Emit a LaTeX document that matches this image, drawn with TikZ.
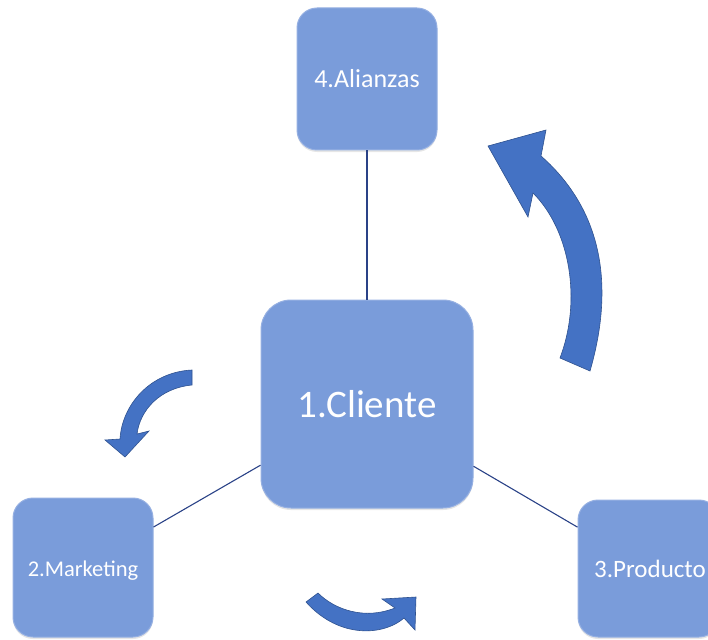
\documentclass[tikz,border=0pt]{standalone}
\usepackage{fontspec}
\setmainfont{Carlito}
\usetikzlibrary{shadows}
\definecolor{boxfill}{RGB}{122,156,218}
\definecolor{boxedge}{RGB}{150,176,226}
\definecolor{arrfill}{RGB}{68,114,196}
\definecolor{arredge}{RGB}{47,82,143}
\definecolor{linkcol}{RGB}{42,66,135}
\tikzset{
  box/.style={rounded corners=#1, fill=boxfill, draw=boxedge, line width=1pt,
    text=white, inner sep=0pt, align=center,
    drop shadow={opacity=0.2, shadow xshift=0pt, shadow yshift=-2pt}},
  link/.style={draw=linkcol, line width=1.1pt},
  curvarrow/.style={fill=arrfill, draw=arredge, line width=0.6pt, line join=miter}
}
\begin{document}
\begin{tikzpicture}[x=1pt,y=-1pt]
\useasboundingbox (0,0) rectangle (708,639);
\clip (0,0) rectangle (708,639);
\node[box=20pt, minimum width=140pt, minimum height=142pt, font=\fontsize{26}{29}\selectfont] (alianzas) at (367,79) {4.Alianzas};
\node[box=30pt, minimum width=212pt, minimum height=208pt, font=\fontsize{39}{44}\selectfont] (cliente) at (367,404) {1.Cliente};
\node[box=20pt, minimum width=140pt, minimum height=139pt, text height=22pt, text depth=5pt, font=\fontsize{22.5}{26}\selectfont] (marketing) at (83,567.5) {2.Marketing};
\node[box=20pt, minimum width=141pt, minimum height=137pt, font=\fontsize{25}{28}\selectfont] (producto) at (648.5,568.5) {\hspace*{3pt}3.Producto};
\draw[link] (cliente) -- (alianzas);
\draw[link] (cliente) -- (marketing);
\draw[link] (cliente) -- (producto);
% big curved arrow (right)
\path[curvarrow] (560,358) -- (590,371) .. controls (612,295) and (608,215) .. (541,156)
  -- (546,130) -- (488,146) -- (528,217) -- (533,193)
  .. controls (570,230) and (582,300) .. (560,358) -- cycle;
% small arrow (left)
\path[curvarrow] (192,370) .. controls (150,372) and (122,405) .. (120,439)
  -- (105,440) -- (125,457) -- (149,431) -- (137,434)
  .. controls (140,410) and (160,388) .. (192,385) -- cycle;
% small arrow (bottom)
\path[curvarrow] (306,602) -- (318,593) .. controls (335,610) and (365,620) .. (395,608)
  -- (382,599) -- (416,597) -- (415,630) -- (404,618)
  .. controls (385,635) and (340,640) .. (306,602) -- cycle;
\end{tikzpicture}
\end{document}
